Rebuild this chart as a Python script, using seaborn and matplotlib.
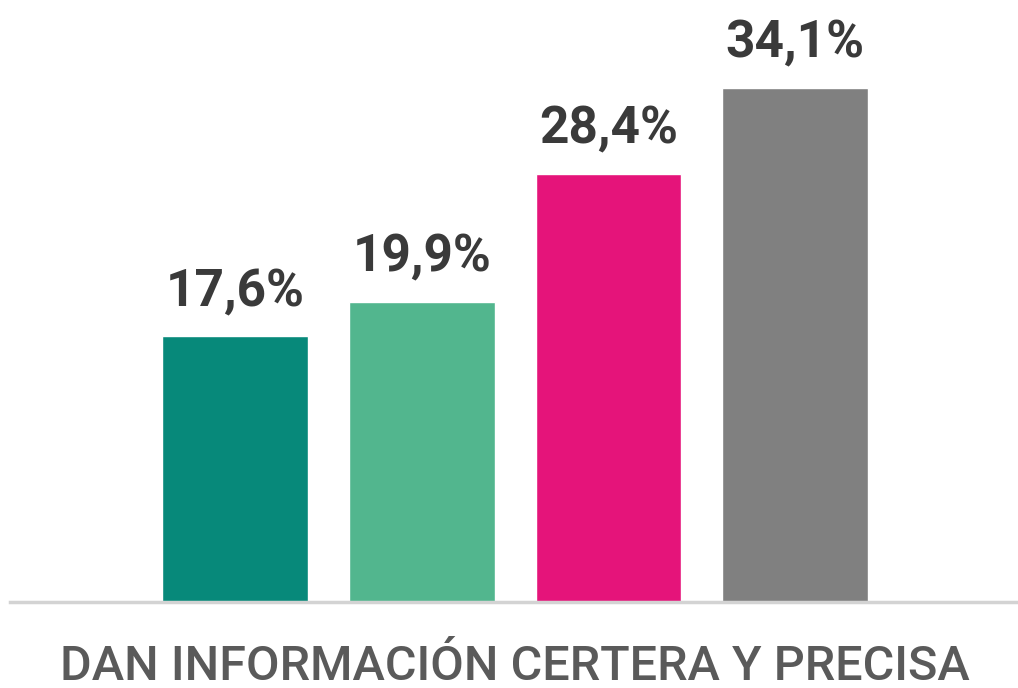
import matplotlib
matplotlib.use("Agg")
import matplotlib.pyplot as plt
import seaborn as sns
import pandas as pd

# ----- Data -----
groups = ["Grupo 1", "Grupo 2", "Grupo 3", "Grupo 4"]
values = [17.6, 19.9, 28.4, 34.1]
value_labels = ["17,6%", "19,9%", "28,4%", "34,1%"]
colors = ["#07897a", "#52b68e", "#e5147a", "#808080"]
caption = "DAN INFORMACIÓN CERTERA Y PRECISA"

df = pd.DataFrame({"grupo": groups, "valor": values})

sns.set_style("white")
plt.rcParams["font.family"] = ["Roboto", "DejaVu Sans"]

fig = plt.figure(figsize=(10.18, 6.88), dpi=100)
ax = fig.add_axes([0, 0.125, 1, 0.875])

sns.barplot(data=df, x="grupo", y="valor", hue="grupo", palette=colors,
            width=0.78, saturation=1, legend=False, ax=ax)

for container, lab in zip(ax.containers, value_labels):
    ax.bar_label(container, labels=[lab], padding=14, fontsize=37,
                 fontweight="bold", color="#3a3a3a")

ax.set_xlim(-1.259, 4.194)
ax.set_ylim(0, 39.9)
ax.set_xticks([])
ax.set_yticks([])
ax.set_xlabel("")
ax.set_ylabel("")
for s in ["top", "right", "left"]:
    ax.spines[s].set_visible(False)
ax.spines["bottom"].set_color("#d3d3d3")
ax.spines["bottom"].set_linewidth(2.5)
ax.spines["bottom"].set_bounds(-1.205, 4.194)

fig.text(0.506, 0.012, caption, ha="center", va="baseline", fontsize=35,
         fontweight="medium", color="#5a5a5a")

fig.savefig("out.png", dpi=100)
